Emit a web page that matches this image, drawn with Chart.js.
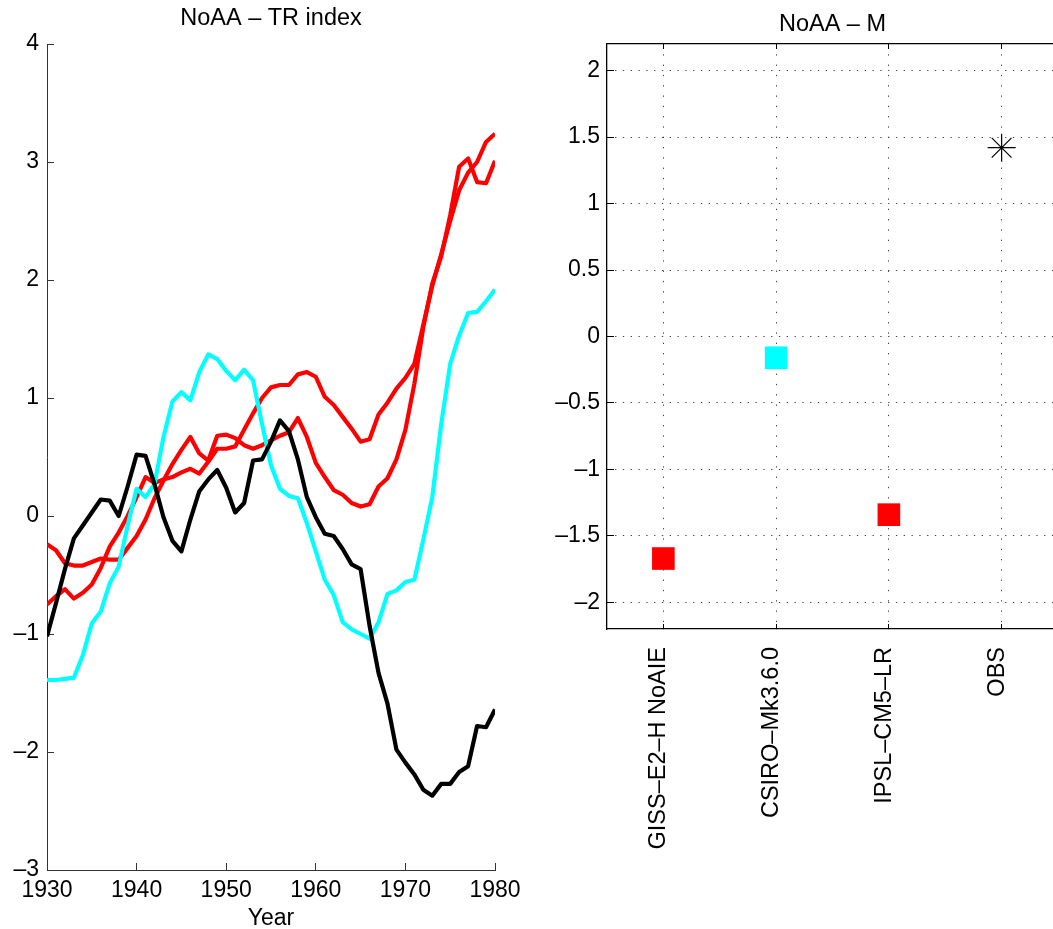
<!DOCTYPE html>
<html>
<head>
<meta charset="utf-8">
<script src="https://cdn.jsdelivr.net/npm/chart.js@4.4.1/dist/chart.umd.min.js"></script>
<style>
  html, body { margin: 0; padding: 0; background: #fff; overflow: hidden; width: 1053px; height: 929px; }
  #graph_tr { position: absolute; left: 0; top: 0; }
  #graph_m { position: absolute; left: 545px; top: 0; }
</style>
</head>
<body>
<canvas id="graph_tr" width="545" height="940"></canvas>
<canvas id="graph_m" width="545" height="929"></canvas>
<script>
// left panel: NoAA - TR index
let years = [1930, 1931, 1932, 1933, 1934, 1935, 1936, 1937, 1938, 1939,
  1940, 1941, 1942, 1943, 1944, 1945, 1946, 1947, 1948, 1949,
  1950, 1951, 1952, 1953, 1954, 1955, 1956, 1957, 1958, 1959,
  1960, 1961, 1962, 1963, 1964, 1965, 1966, 1967, 1968, 1969,
  1970, 1971, 1972, 1973, 1974, 1975, 1976, 1977, 1978, 1979, 1980]

let blackSeries = [-1.02, -0.74, -0.45, -0.19, -0.08, 0.03, 0.14, 0.13, 0.00, 0.25,
  0.52, 0.51, 0.27, -0.01, -0.21, -0.30, -0.03, 0.21, 0.31, 0.39,
  0.24, 0.03, 0.11, 0.47, 0.48, 0.63, 0.81, 0.72, 0.48, 0.16,
  -0.01, -0.15, -0.17, -0.28, -0.41, -0.45, -0.93, -1.33, -1.59, -1.98,
  -2.09, -2.19, -2.32, -2.37, -2.27, -2.27, -2.17, -2.12, -1.78, -1.79, -1.64]

let cyanSeries = [-1.39, -1.39, -1.38, -1.37, -1.18, -0.91, -0.81, -0.57, -0.43, -0.08,
  0.23, 0.16, 0.27, 0.67, 0.97, 1.05, 0.98, 1.22, 1.37, 1.33,
  1.23, 1.15, 1.24, 1.15, 0.78, 0.43, 0.23, 0.17, 0.15, -0.06,
  -0.30, -0.54, -0.67, -0.90, -0.96, -1.00, -1.04, -0.90, -0.66, -0.63,
  -0.56, -0.54, -0.20, 0.16, 0.78, 1.29, 1.53, 1.72, 1.73, 1.82, 1.92]

let redSeriesA = [-0.24, -0.29, -0.40, -0.42, -0.42, -0.39, -0.36, -0.37, -0.37, -0.27,
  -0.17, -0.03, 0.15, 0.30, 0.44, 0.56, 0.67, 0.53, 0.47, 0.68,
  0.69, 0.66, 0.60, 0.57, 0.60, 0.64, 0.68, 0.71, 0.83, 0.67,
  0.45, 0.33, 0.22, 0.18, 0.11, 0.08, 0.10, 0.25, 0.32, 0.48,
  0.73, 1.12, 1.60, 1.97, 2.20, 2.55, 2.96, 3.03, 2.83, 2.82, 3.01]

let redSeriesB = [-0.75, -0.68, -0.62, -0.70, -0.65, -0.58, -0.44, -0.26, -0.14, 0.00,
  0.16, 0.33, 0.28, 0.31, 0.33, 0.37, 0.40, 0.36, 0.46, 0.57,
  0.57, 0.59, 0.73, 0.87, 1.00, 1.09, 1.11, 1.11, 1.20, 1.22,
  1.18, 1.01, 0.94, 0.84, 0.74, 0.63, 0.65, 0.86, 0.96, 1.08,
  1.17, 1.29, 1.62, 1.95, 2.22, 2.50, 2.76, 2.91, 3.00, 3.17, 3.24]

let trYTicks = [-3, -2, -1, 0, 1, 2, 3, 4]
let trXTicks = [1930, 1940, 1950, 1960, 1970, 1980]

// right panel: NoAA - M
let models = ['GISS–E2–H NoAIE', 'CSIRO–Mk3.6.0', 'IPSL–CM5–LR', 'OBS']
let modelValues = [-1.67, -0.16, -1.34, 1.42]
let mYTicks = [-2, -1.5, -1, -0.5, 0, 0.5, 1, 1.5, 2]

const FONT = 'Liberation Sans, Arial, Helvetica, sans-serif'
const minus = v => String(v).replace('-', '–')
const toPoints = arr => arr.map((v, i) => ({ x: years[i], y: v }))

Chart.defaults.font.family = FONT
Chart.defaults.color = '#000'

const lineSet = (data, color) => ({
  data: toPoints(data),
  borderColor: color,
  borderWidth: 4.2,
  borderJoinStyle: 'round',
  pointRadius: 0,
  fill: false,
  tension: 0
})

const ctx = document.getElementById('graph_tr')

new Chart(ctx, {
  type: 'line',
  data: {
    datasets: [
      lineSet(blackSeries, '#000000'),
      lineSet(cyanSeries, '#00ffff'),
      lineSet(redSeriesB, '#ff0000'),
      lineSet(redSeriesA, '#ff0000')
    ]
  },
  options: {
    responsive: false,
    animation: false,
    events: [],
    layout: {
      padding: { top: 0, left: 0, right: 50, bottom: 0 }
    },
    plugins: {
      legend: { display: false },
      tooltip: { enabled: false }
    },
    scales: {
      x: {
        type: 'linear',
        min: 1930,
        max: 1980,
        afterBuildTicks: s => { s.ticks = trXTicks.map(v => ({ value: v })) },
        afterFit: s => { s.height = 70 },
        border: { display: true, color: '#333', width: 1 },
        grid: {
          drawOnChartArea: false,
          drawTicks: true,
          tickLength: -7,
          tickColor: '#333'
        },
        ticks: {
          padding: 14,
          font: { size: 23 },
          color: '#000',
          maxRotation: 0,
          callback: v => String(v)
        },
        title: {
          display: true,
          text: 'Year',
          color: '#000',
          font: { size: 23 },
          padding: { top: 0, bottom: 8 }
        }
      },
      // only carries the panel title, centred over the plot area
      xTitle: {
        type: 'linear',
        position: 'top',
        min: 1930,
        max: 1980,
        afterFit: s => { s.height = 44 },
        border: { display: false },
        grid: { display: false },
        ticks: { display: false },
        title: {
          display: true,
          text: 'NoAA – TR index',
          color: '#000',
          font: { size: 23.5 },
          padding: { top: 4.5, bottom: 0 }
        }
      },
      y: {
        min: -3,
        max: 4,
        afterBuildTicks: s => { s.ticks = trYTicks.map(v => ({ value: v })) },
        afterFit: s => { s.width = 47 },
        border: { display: true, color: '#333', width: 1 },
        grid: {
          drawOnChartArea: false,
          drawTicks: true,
          tickLength: -7,
          tickColor: '#333'
        },
        ticks: {
          padding: 15,
          font: { size: 23 },
          color: '#000',
          callback: v => minus(v)
        }
      }
    }
  }
})

const ctx2 = document.getElementById('graph_m')

new Chart(ctx2, {
  type: 'line',
  data: {
    labels: models,
    datasets: [{
      data: modelValues,
      showLine: false,
      pointStyle: ['rect', 'rect', 'rect', 'star'],
      pointRadius: [16, 16, 16, 14],
      pointBackgroundColor: ['#ff0000', '#00ffff', '#ff0000', '#000000'],
      pointBorderColor: ['#ff0000', '#00ffff', '#ff0000', '#000000'],
      pointBorderWidth: [0, 0, 0, 1.2]
    }]
  },
  options: {
    responsive: false,
    animation: false,
    events: [],
    layout: {
      padding: { top: 0, left: 0, right: 32, bottom: 0 }
    },
    plugins: {
      legend: { display: false },
      tooltip: { enabled: false }
    },
    scales: {
      x: {
        type: 'category',
        offset: true,
        afterFit: s => { s.height = 300 },
        border: { display: true, color: '#000', width: 1.3, dash: [1.3, 9] },
        grid: {
          offset: false,
          drawOnChartArea: true,
          color: '#444',
          lineWidth: 1,
          drawTicks: true,
          tickLength: -5,
          tickColor: '#000',
          tickBorderDash: []
        },
        ticks: {
          autoSkip: false,
          minRotation: 90,
          maxRotation: 90,
          padding: 23,
          labelOffset: -4.5,
          font: { size: 23.5 },
          color: '#000'
        }
      },
      xTop: {
        type: 'category',
        position: 'top',
        offset: true,
        afterFit: s => { s.height = 44 },
        border: { display: true, color: '#000', width: 1.3 },
        grid: {
          offset: false,
          drawOnChartArea: false,
          drawTicks: true,
          tickLength: -5,
          tickColor: '#000'
        },
        ticks: { display: false },
        title: {
          display: true,
          text: 'NoAA – M',
          color: '#000',
          font: { size: 23.5 },
          padding: { top: 10.5, bottom: 0 }
        }
      },
      y: {
        min: -2.2,
        max: 2.2,
        afterBuildTicks: s => { s.ticks = mYTicks.map(v => ({ value: v })) },
        afterFit: s => { s.width = 62 },
        border: { display: true, color: '#000', width: 1.3, dash: [1.3, 6.5] },
        grid: {
          drawOnChartArea: true,
          color: '#444',
          lineWidth: 1,
          drawTicks: true,
          tickLength: -7,
          tickColor: '#000',
          tickBorderDash: []
        },
        ticks: {
          padding: 14,
          font: { size: 23 },
          color: '#000',
          callback: v => minus(v)
        }
      }
    }
  }
})
</script>
</body>
</html>
